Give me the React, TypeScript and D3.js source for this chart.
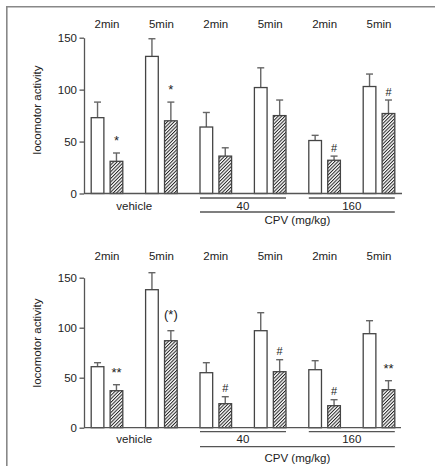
import React, { useRef, useEffect } from 'react'
import * as d3 from 'd3'

// groups along the x axis
const doses = ['vehicle', '40', '160']
const times = ['2min', '5min']
const slots = ['vehicle-2', 'vehicle-5', '40-2', '40-5', '160-2', '160-5']

// top panel
const topOpenMean = [73, 132, 64, 102, 51, 103]
const topOpenSem = [15, 17, 14, 19, 5, 12]
const topHatchMean = [31, 70, 36, 75, 32, 77]
const topHatchSem = [8, 18, 8, 15, 4, 13]
const topMarks = ['*', '*', '', '', '#', '#']

// bottom panel
const botOpenMean = [61, 138, 55, 97, 58, 94]
const botOpenSem = [4, 17, 10, 18, 9, 13]
const botHatchMean = [37, 87, 24, 56, 22, 38]
const botHatchSem = [6, 10, 7, 12, 6, 9]
const botMarks = ['**', '(*)', '#', '#', '#', '**']

const yTicks = [0, 50, 100, 150]

const FONT = '"Liberation Sans", Arial, Helvetica, sans-serif'
const INK = '#222'
const AXIS = '#555'

export default function App() {
  const svgRef = useRef<SVGSVGElement>(null)

  useEffect(() => {
    document.body.style.margin = '0'
    const width = 435
    const height = 466
    const svg = d3.select(svgRef.current)
    svg.selectAll('*').remove()
    svg.attr('width', width).attr('height', height)

    const defs = svg.append('defs')
    const pat = defs.append('pattern')
      .attr('id', 'hatch')
      .attr('patternUnits', 'userSpaceOnUse')
      .attr('width', 2.4)
      .attr('height', 10)
      .attr('patternTransform', 'rotate(45)')
    pat.append('rect').attr('width', 2.4).attr('height', 10).attr('fill', '#fff')
    pat.append('line')
      .attr('x1', 0.5).attr('x2', 0.5).attr('y1', 0).attr('y2', 10)
      .attr('stroke', '#222').attr('stroke-width', 1)

    // frame (left and top only)
    svg.append('path')
      .attr('d', `M6.8,${height} V6.8 H${width}`)
      .attr('fill', 'none')
      .attr('stroke', '#888')
      .attr('stroke-width', 1.6)

    const x = d3.scaleBand<string>().domain(slots).range([79.8, 406.2])
    const inner = d3.scaleBand<string>().domain(['open', 'hatch']).range([-15.8, 15.8]).paddingInner(0.33)

    const panels = [
      {
        y0: 193.5, y150: 37.7, labelY: 28, lineA: 198, lineB: 212, doseY: 210, cpvY: 224, titleY: 110,
        openMean: topOpenMean, openSem: topOpenSem, hatchMean: topHatchMean, hatchSem: topHatchSem, marks: topMarks,
        axisEnd: 402,
      },
      {
        y0: 427.7, y150: 277.7, labelY: 260, lineA: 431.7, lineB: 446.7, doseY: 443, cpvY: 461.5, titleY: 343,
        openMean: botOpenMean, openSem: botOpenSem, hatchMean: botHatchMean, hatchSem: botHatchSem, marks: botMarks,
        axisEnd: 401,
      },
    ]

    panels.forEach(p => {
      const y = d3.scaleLinear().domain([0, 150]).range([p.y0, p.y150])
      const g = svg.append('g')

      // y axis
      const ax = g.append('g')
        .attr('transform', 'translate(84,0)')
        .call(d3.axisLeft(y).tickValues(yTicks).tickSize(4.5).tickSizeOuter(0).tickPadding(2.5))
      ax.selectAll('path, line').attr('stroke', AXIS).attr('stroke-width', 1.3)
      ax.selectAll('text').attr('fill', INK).attr('font-size', 11.5).attr('font-family', FONT)

      // bars
      slots.forEach((s, i) => {
        const cx = (x(s) as number) + x.bandwidth() / 2
        const bars = [
          { key: 'open', mean: p.openMean[i], sem: p.openSem[i], fill: '#fff' },
          { key: 'hatch', mean: p.hatchMean[i], sem: p.hatchSem[i], fill: 'url(#hatch)' },
        ]
        bars.forEach(b => {
          const bx = cx + (inner(b.key) as number)
          const bw = inner.bandwidth()
          const mx = bx + bw / 2
          // error bar
          g.append('line')
            .attr('x1', mx).attr('x2', mx)
            .attr('y1', y(b.mean)).attr('y2', y(b.mean + b.sem))
            .attr('stroke', '#666').attr('stroke-width', 1.4)
          g.append('line')
            .attr('x1', mx - 3.5).attr('x2', mx + 3.5)
            .attr('y1', y(b.mean + b.sem)).attr('y2', y(b.mean + b.sem))
            .attr('stroke', '#666').attr('stroke-width', 1.4)
          g.append('rect')
            .attr('x', bx).attr('y', y(b.mean))
            .attr('width', bw).attr('height', y(0) - y(b.mean))
            .attr('fill', b.fill)
            .attr('stroke', '#444').attr('stroke-width', 1.3)
        })
        const mark = p.marks[i]
        if (mark) {
          const hx = cx + (inner('hatch') as number) + inner.bandwidth() / 2
          const gap = mark.includes('(') ? 12 : mark.includes('*') ? 8 : 4.5
          g.append('text')
            .attr('x', hx)
            .attr('y', y(p.hatchMean[i] + p.hatchSem[i]) - gap)
            .attr('text-anchor', 'middle')
            .attr('font-size', mark.includes('#') ? 11 : 13)
            .attr('font-family', FONT)
            .attr('fill', INK)
            .text(mark)
        }
        // time label
        g.append('text')
          .attr('x', cx)
          .attr('y', p.labelY)
          .attr('text-anchor', 'middle')
          .attr('font-size', 11.5)
          .attr('font-family', FONT)
          .attr('fill', INK)
          .text(times[i % 2])
      })

      // x baseline
      g.append('line')
        .attr('x1', 84).attr('x2', p.axisEnd)
        .attr('y1', y(0)).attr('y2', y(0))
        .attr('stroke', AXIS).attr('stroke-width', 1.3)

      // dose labels and underlines
      doses.forEach((d, k) => {
        const first = slots[k * 2]
        const last = slots[k * 2 + 1]
        const left = (x(first) as number) + x.bandwidth() / 2 + (inner('open') as number)
        const right = (x(last) as number) + x.bandwidth() / 2 + (inner('hatch') as number) + inner.bandwidth()
        if (k > 0) {
          g.append('line')
            .attr('x1', left).attr('x2', right)
            .attr('y1', p.lineA).attr('y2', p.lineA)
            .attr('stroke', AXIS).attr('stroke-width', 1.3)
        }
        g.append('text')
          .attr('x', (left + right) / 2)
          .attr('y', p.doseY)
          .attr('text-anchor', 'middle')
          .attr('font-size', 11.5)
          .attr('font-family', FONT)
          .attr('fill', INK)
          .text(d)
      })
      const cpvLeft = (x(slots[2]) as number) + x.bandwidth() / 2 + (inner('open') as number)
      const cpvRight = (x(slots[5]) as number) + x.bandwidth() / 2 + (inner('hatch') as number) + inner.bandwidth()
      g.append('line')
        .attr('x1', cpvLeft).attr('x2', cpvRight)
        .attr('y1', p.lineB).attr('y2', p.lineB)
        .attr('stroke', AXIS).attr('stroke-width', 1.3)
      g.append('text')
        .attr('x', (cpvLeft + cpvRight) / 2)
        .attr('y', p.cpvY)
        .attr('text-anchor', 'middle')
        .attr('font-size', 11.5)
        .attr('font-family', FONT)
        .attr('fill', INK)
        .text('CPV (mg/kg)')

      // y title
      g.append('text')
        .attr('transform', `translate(41,${p.titleY}) rotate(-90)`)
        .attr('text-anchor', 'middle')
        .attr('font-size', 11.5)
        .attr('font-family', FONT)
        .attr('fill', INK)
        .text('locomotor activity')
    })
  }, [])

  return <svg ref={svgRef} style={{ display: 'block' }} />
}
